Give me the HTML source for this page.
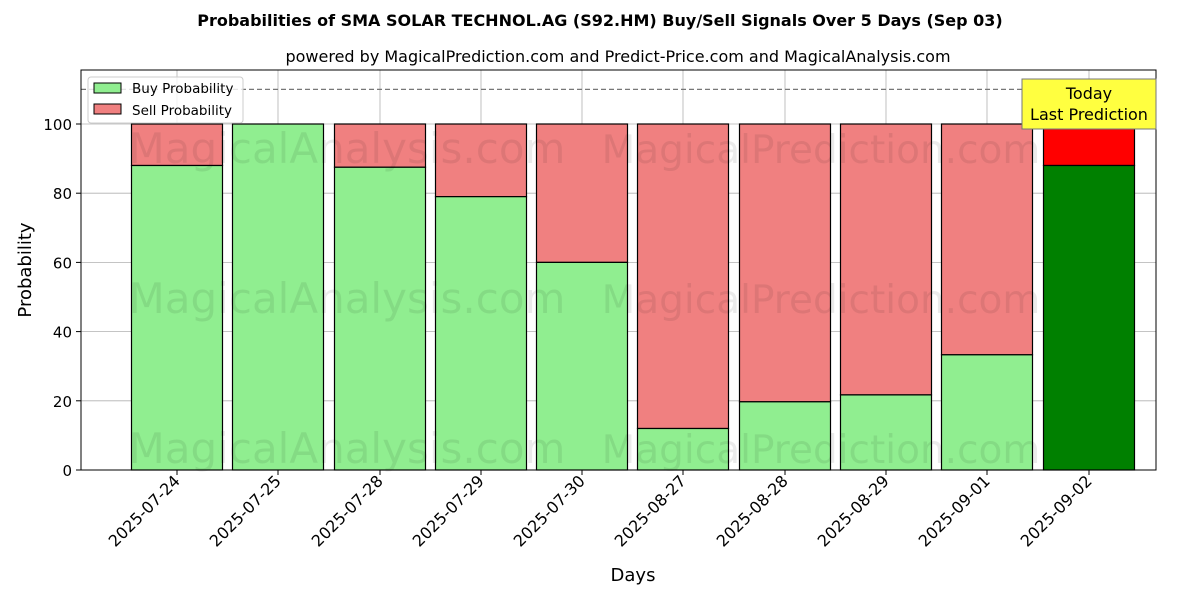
<!DOCTYPE html>
<html><head><meta charset="utf-8"><style>body{margin:0;background:#fff}svg{display:block;font-family:"DejaVu Sans","Liberation Sans",sans-serif}</style></head><body>
<svg width="1200" height="600" xmlns="http://www.w3.org/2000/svg">
<text x="600" y="26" text-anchor="middle" font-size="16" font-weight="bold">Probabilities of SMA SOLAR TECHNOL.AG (S92.HM) Buy/Sell Signals Over 5 Days (Sep 03)</text>
<text x="618" y="62" text-anchor="middle" font-size="16">powered by MagicalPrediction.com and Predict-Price.com and MagicalAnalysis.com</text>
<g stroke="#b0b0b0" stroke-width="0.8">
<line x1="177" y1="70" x2="177" y2="470"/><line x1="278" y1="70" x2="278" y2="470"/><line x1="380" y1="70" x2="380" y2="470"/><line x1="481" y1="70" x2="481" y2="470"/><line x1="582" y1="70" x2="582" y2="470"/><line x1="683" y1="70" x2="683" y2="470"/><line x1="785" y1="70" x2="785" y2="470"/><line x1="886" y1="70" x2="886" y2="470"/><line x1="987" y1="70" x2="987" y2="470"/><line x1="1089" y1="70" x2="1089" y2="470"/>
<line x1="81" y1="400.8" x2="1156" y2="400.8"/><line x1="81" y1="331.6" x2="1156" y2="331.6"/><line x1="81" y1="262.4" x2="1156" y2="262.4"/><line x1="81" y1="193.2" x2="1156" y2="193.2"/><line x1="81" y1="124" x2="1156" y2="124"/>
</g>
<g stroke="#000" stroke-width="1.2">
<rect x="131.5" y="124" width="91" height="41.5" fill="#f08080"/><rect x="131.5" y="165.5" width="91" height="304.5" fill="#90ee90"/>
<rect x="232.5" y="124" width="91" height="346" fill="#90ee90"/>
<rect x="334.5" y="124" width="91" height="43.25" fill="#f08080"/><rect x="334.5" y="167.25" width="91" height="302.75" fill="#90ee90"/>
<rect x="435.5" y="124" width="91" height="72.66" fill="#f08080"/><rect x="435.5" y="196.66" width="91" height="273.34" fill="#90ee90"/>
<rect x="536.5" y="124" width="91" height="138.4" fill="#f08080"/><rect x="536.5" y="262.4" width="91" height="207.6" fill="#90ee90"/>
<rect x="637.5" y="124" width="91" height="304.5" fill="#f08080"/><rect x="637.5" y="428.5" width="91" height="41.5" fill="#90ee90"/>
<rect x="739.5" y="124" width="91" height="277.8" fill="#f08080"/><rect x="739.5" y="401.8" width="91" height="68.2" fill="#90ee90"/>
<rect x="840.5" y="124" width="91" height="270.9" fill="#f08080"/><rect x="840.5" y="394.9" width="91" height="75.1" fill="#90ee90"/>
<rect x="941.5" y="124" width="91" height="230.8" fill="#f08080"/><rect x="941.5" y="354.8" width="91" height="115.2" fill="#90ee90"/>
<rect x="1043.5" y="124" width="91" height="41.5" fill="#ff0000"/><rect x="1043.5" y="165.5" width="91" height="304.5" fill="#008000"/>
</g>
<g font-size="42" fill="#000" fill-opacity="0.08" text-anchor="middle">
<text x="347" y="163">MagicalAnalysis.com</text><text x="821" y="163" font-size="39">MagicalPrediction.com</text>
<text x="347" y="313">MagicalAnalysis.com</text><text x="821" y="313" font-size="39">MagicalPrediction.com</text>
<text x="347" y="463">MagicalAnalysis.com</text><text x="821" y="463" font-size="39">MagicalPrediction.com</text>
</g>
<line x1="81" y1="89.4" x2="1156" y2="89.4" stroke="#777" stroke-width="1.2" stroke-dasharray="5,3"/>
<rect x="81" y="70" width="1075" height="400" fill="none" stroke="#000" stroke-width="1"/>
<g stroke="#000">
<line x1="76" y1="470" x2="81" y2="470"/><line x1="76" y1="400.8" x2="81" y2="400.8"/><line x1="76" y1="331.6" x2="81" y2="331.6"/><line x1="76" y1="262.4" x2="81" y2="262.4"/><line x1="76" y1="193.2" x2="81" y2="193.2"/><line x1="76" y1="124" x2="81" y2="124"/>
<line x1="177" y1="470" x2="177" y2="475"/><line x1="278" y1="470" x2="278" y2="475"/><line x1="380" y1="470" x2="380" y2="475"/><line x1="481" y1="470" x2="481" y2="475"/><line x1="582" y1="470" x2="582" y2="475"/><line x1="683" y1="470" x2="683" y2="475"/><line x1="785" y1="470" x2="785" y2="475"/><line x1="886" y1="470" x2="886" y2="475"/><line x1="987" y1="470" x2="987" y2="475"/><line x1="1089" y1="470" x2="1089" y2="475"/>
</g>
<g font-size="15" text-anchor="end">
<text x="72" y="476">0</text><text x="72" y="406.8">20</text><text x="72" y="337.6">40</text><text x="72" y="268.4">60</text><text x="72" y="199.2">80</text><text x="72" y="130">100</text>
</g>
<g font-size="16" text-anchor="end">
<text transform="translate(181,482) rotate(-45)">2025-07-24</text>
<text transform="translate(282,482) rotate(-45)">2025-07-25</text>
<text transform="translate(384,482) rotate(-45)">2025-07-28</text>
<text transform="translate(485,482) rotate(-45)">2025-07-29</text>
<text transform="translate(586,482) rotate(-45)">2025-07-30</text>
<text transform="translate(687,482) rotate(-45)">2025-08-27</text>
<text transform="translate(789,482) rotate(-45)">2025-08-28</text>
<text transform="translate(890,482) rotate(-45)">2025-08-29</text>
<text transform="translate(991,482) rotate(-45)">2025-09-01</text>
<text transform="translate(1093,482) rotate(-45)">2025-09-02</text>
</g>
<rect x="1022" y="79" width="134" height="50" fill="#ffff40" stroke="#777"/>
<text x="1089" y="99" text-anchor="middle" font-size="16">Today</text>
<text x="1089" y="120" text-anchor="middle" font-size="16">Last Prediction</text>
<rect x="88" y="77" width="155" height="46" rx="3" fill="#fff" fill-opacity="0.8" stroke="#ccc"/>
<rect x="94" y="83" width="27" height="10" fill="#90ee90" stroke="#000"/><text x="132" y="93" font-size="13.5">Buy Probability</text>
<rect x="94" y="104" width="27" height="10" fill="#f08080" stroke="#000"/><text x="132" y="115" font-size="13.5">Sell Probability</text>
<text x="633" y="581" text-anchor="middle" font-size="18">Days</text>
<text transform="translate(31,270) rotate(-90)" text-anchor="middle" font-size="18">Probability</text>
</svg>
</body></html>
